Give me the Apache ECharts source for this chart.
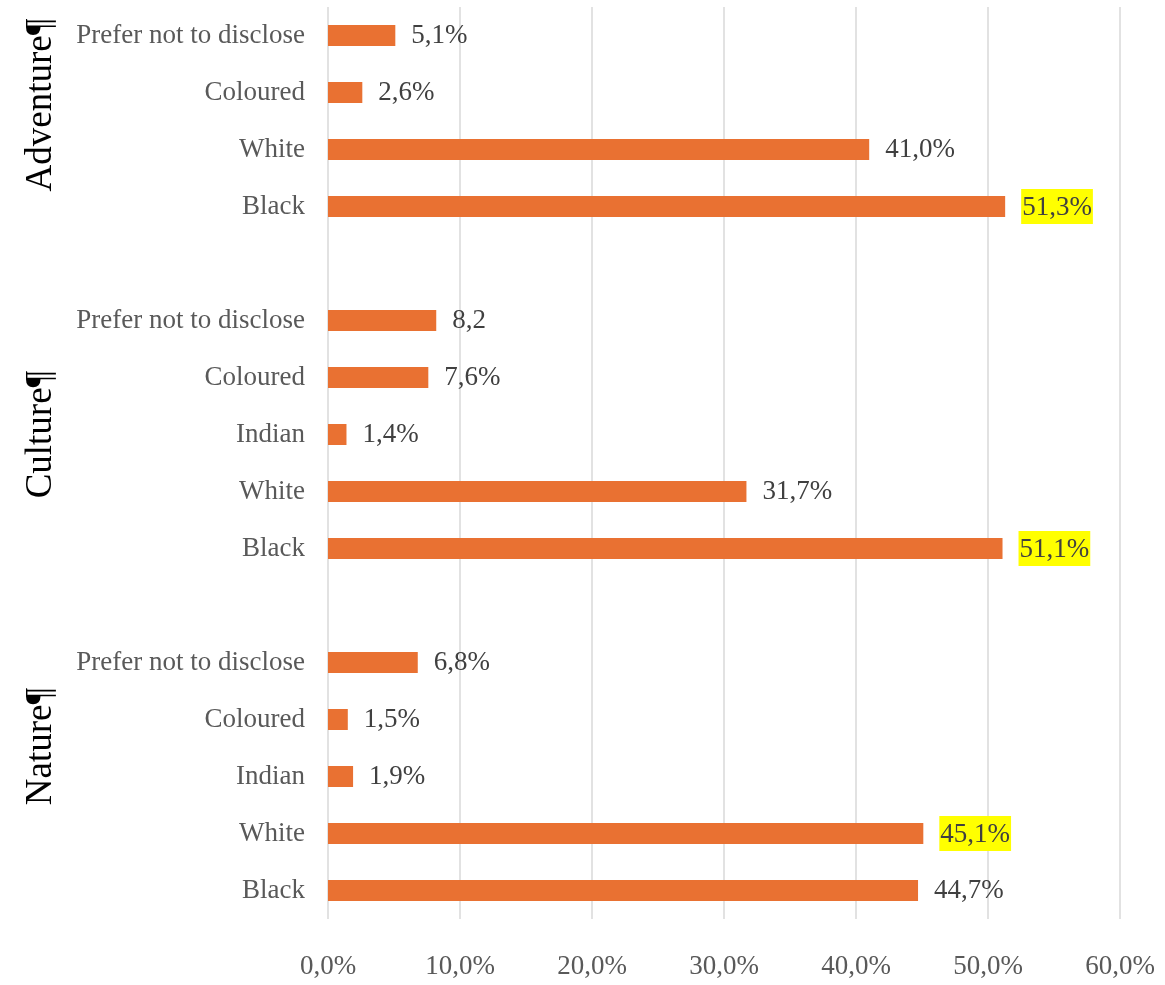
<!DOCTYPE html>
<html>
<head>
<meta charset="utf-8">
<script src="https://cdn.jsdelivr.net/npm/echarts@6/dist/echarts.min.js"></script>
<style>
  html, body { margin: 0; padding: 0; background: #fff; }
  #chart { width: 1165px; height: 985px; }
</style>
</head>
<body>
<div id="chart"></div>
<script>
// groups from top to bottom in the picture
var groups = ['Adventure', 'Culture', 'Nature'];

// rows of each group, top to bottom
var adventureRows = ['Prefer not to disclose', 'Coloured', 'White', 'Black'];
var adventureValues = [5.1, 2.6, 41.0, 51.3];

var cultureRows = ['Prefer not to disclose', 'Coloured', 'Indian', 'White', 'Black'];
var cultureValues = [8.2, 7.6, 1.4, 31.7, 51.1];

var natureRows = ['Prefer not to disclose', 'Coloured', 'Indian', 'White', 'Black'];
var natureValues = [6.8, 1.5, 1.9, 45.1, 44.7];

// this one is printed without a % sign in the source
var noPercent = ['Culture:Prefer not to disclose'];

var xTicks = [0, 10, 20, 30, 40, 50, 60];

var rowsByGroup = { Adventure: adventureRows, Culture: cultureRows, Nature: natureRows };
var valuesByGroup = { Adventure: adventureValues, Culture: cultureValues, Nature: natureValues };

// build the category axis bottom -> top, with an empty slot between groups
var categories = [];
var values = [];
var highlight = {};
groups.slice().reverse().forEach(function (g, gi) {
  if (gi > 0) {
    categories.push('gap' + gi + ':');
    values.push(null);
  }
  var rows = rowsByGroup[g].slice().reverse();
  var vals = valuesByGroup[g].slice().reverse();
  var max = Math.max.apply(null, vals);
  rows.forEach(function (r, i) {
    var key = g + ':' + r;
    categories.push(key);
    values.push(vals[i]);
    if (vals[i] === max) highlight[key] = true;
  });
});

var serif = '"Liberation Serif", "Times New Roman", serif';

var chart = echarts.init(document.getElementById('chart'));

chart.setOption({
  animation: false,
  grid: { left: 328, right: 45, top: 7, bottom: 66 },
  xAxis: {
    type: 'value',
    min: xTicks[0],
    max: xTicks[xTicks.length - 1],
    interval: 10,
    axisLine: { show: false },
    axisTick: { show: false },
    splitLine: { lineStyle: { color: '#d9d9d9', width: 1.5 } },
    axisLabel: {
      margin: 34,
      color: '#595959',
      fontFamily: serif,
      fontSize: 27,
      formatter: function (v) { return v.toFixed(1).replace('.', ',') + '%'; }
    }
  },
  yAxis: {
    type: 'category',
    data: categories,
    axisLine: { show: false },
    axisTick: { show: false },
    axisLabel: {
      margin: 23,
      color: '#595959',
      fontFamily: serif,
      fontSize: 27,
      formatter: function (v) { return v.split(':')[1]; }
    }
  },
  series: [{
    type: 'bar',
    data: values,
    barWidth: 21,
    itemStyle: { color: '#E97132' },
    label: {
      show: true,
      position: 'right',
      distance: 16,
      fontFamily: serif,
      fontSize: 27,
      color: '#404040',
      formatter: function (p) {
        if (p.value == null) return '';
        var key = categories[p.dataIndex];
        var txt = p.value.toFixed(1).replace('.', ',');
        if (noPercent.indexOf(key) < 0) txt += '%';
        return highlight[key] ? '{hl|' + txt + '}' : txt;
      },
      rich: {
        hl: {
          backgroundColor: '#FFFF00',
          color: '#404040',
          fontFamily: serif,
          fontSize: 27,
          padding: [5, 1, 3, 1]
        }
      }
    }
  }]
});

// rotated group titles; the source sets them a little above the middle of their rows
var titleNudge = [-16, 0, -30];
var titles = groups.map(function (g, gi) {
  var rows = rowsByGroup[g];
  var yTop = chart.convertToPixel({ yAxisIndex: 0 }, g + ':' + rows[0]);
  var yBot = chart.convertToPixel({ yAxisIndex: 0 }, g + ':' + rows[rows.length - 1]);
  return {
    type: 'text',
    x: 41,
    y: (yTop + yBot) / 2 + titleNudge[gi],
    rotation: Math.PI / 2,
    style: {
      text: g + '\u00B6',
      fill: '#000',
      font: '37px ' + serif,
      align: 'center',
      verticalAlign: 'middle'
    }
  };
});
chart.setOption({ graphic: titles });
</script>
</body>
</html>
